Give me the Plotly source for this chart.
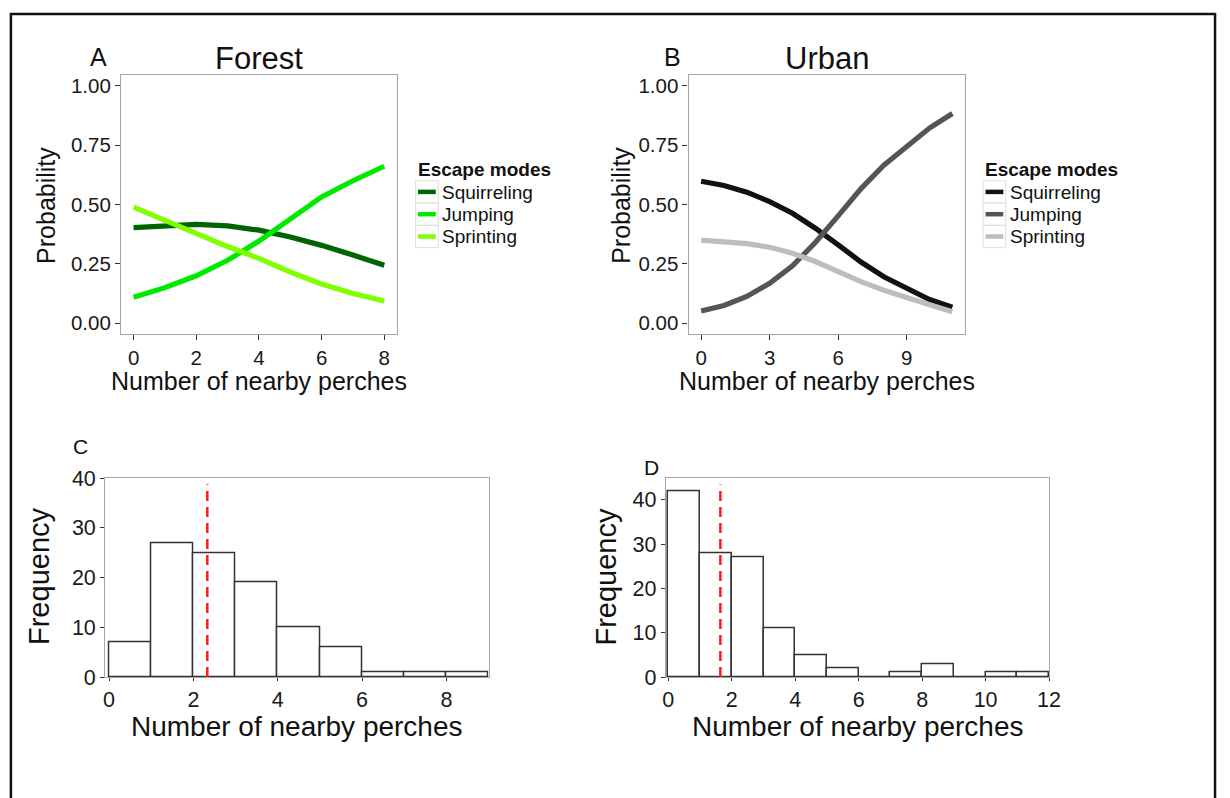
import plotly.graph_objects as go

W, H = 1230, 798

# ---------------- data ----------------
forest_x = [0, 1, 2, 3, 4, 5, 6, 7, 8]
forest_squirreling = [0.403, 0.412, 0.416, 0.410, 0.392, 0.363, 0.328, 0.287, 0.244]
forest_jumping = [0.110, 0.150, 0.200, 0.265, 0.346, 0.438, 0.532, 0.600, 0.661]
forest_sprinting = [0.489, 0.432, 0.376, 0.323, 0.273, 0.216, 0.165, 0.125, 0.094]

urban_x = [0, 1, 2, 3, 4, 5, 6, 7, 8, 9, 10, 11]
urban_squirreling = [0.598, 0.580, 0.552, 0.512, 0.463, 0.400, 0.330, 0.258, 0.196, 0.148, 0.100, 0.068]
urban_jumping = [0.052, 0.075, 0.113, 0.168, 0.242, 0.340, 0.452, 0.567, 0.665, 0.745, 0.822, 0.883]
urban_sprinting = [0.350, 0.345, 0.335, 0.320, 0.295, 0.260, 0.218, 0.175, 0.139, 0.107, 0.078, 0.049]

modes = ["Squirreling", "Jumping", "Sprinting"]
forest_colors = ["#006400", "#00ea00", "#7fff00"]
urban_colors = ["#111111", "#555555", "#bdbdbd"]

forest_bin_left = [0, 1, 2, 3, 4, 5, 6, 7, 8]
forest_counts = [7, 27, 25, 19, 10, 6, 1, 1, 1]
forest_mean = 2.33

urban_bin_left = [0, 1, 2, 3, 4, 5, 6, 7, 8, 9, 10, 11]
urban_counts = [42, 28, 27, 11, 5, 2, 0, 1, 3, 0, 1, 1]
urban_mean = 1.64

# ---------------- helpers ----------------
FONT = "Liberation Sans, Arial, Helvetica, sans-serif"


def px_x(p):
    return p / W


def px_y(p):
    return 1 - p / H


fig = go.Figure()

# Panel A lines
for name, ys, col in zip(modes, [forest_squirreling, forest_jumping, forest_sprinting], forest_colors):
    fig.add_trace(go.Scatter(x=forest_x, y=ys, mode="lines", name=name,
                             line=dict(color=col, width=5.2), showlegend=False,
                             xaxis="x", yaxis="y"))
# Panel B lines
for name, ys, col in zip(modes, [urban_squirreling, urban_jumping, urban_sprinting], urban_colors):
    fig.add_trace(go.Scatter(x=urban_x, y=ys, mode="lines", name=name,
                             line=dict(color=col, width=5.2), showlegend=False,
                             xaxis="x2", yaxis="y2"))

# Panel C histogram
fig.add_trace(go.Bar(x=[b + 0.5 for b in forest_bin_left], y=forest_counts, width=1,
                     marker=dict(color="white", line=dict(color="#333333", width=1.5)),
                     showlegend=False, xaxis="x3", yaxis="y3"))
fig.add_trace(go.Scatter(x=[forest_mean, forest_mean], y=[0, 38.8], mode="lines",
                         line=dict(color="#ff1a1a", width=2.5, dash="10px,6px"),
                         showlegend=False, xaxis="x3", yaxis="y3"))
# Panel D histogram
fig.add_trace(go.Bar(x=[b + 0.5 for b in urban_bin_left], y=urban_counts, width=1,
                     marker=dict(color="white", line=dict(color="#333333", width=1.5)),
                     showlegend=False, xaxis="x4", yaxis="y4"))
fig.add_trace(go.Scatter(x=[urban_mean, urban_mean], y=[0, 43.5], mode="lines",
                         line=dict(color="#ff1a1a", width=2.5, dash="10px,6px"),
                         showlegend=False, xaxis="x4", yaxis="y4"))

axis_common = dict(showgrid=False, zeroline=False, showline=True, mirror=True,
                   linecolor="#a6a6a6", linewidth=1.3, ticks="outside",
                   tickwidth=1.2, tickcolor="#333333", fixedrange=True)
tick_small = dict(family=FONT, size=20.5, color="#1a1a1a")
tick_big = dict(family=FONT, size=21.5, color="#1a1a1a")

yA = [px_y(333), px_y(66)]
yC = [px_y(686.7), px_y(481.7)]

fig.update_layout(
    width=W, height=H, margin=dict(l=0, r=0, t=0, b=0),
    paper_bgcolor="white", plot_bgcolor="white",
    bargap=0,
    xaxis=dict(domain=[px_x(118.6), px_x(398)], range=[-0.4, 8.4], ticklen=5,
               tickvals=[0, 2, 4, 6, 8], tickfont=tick_small, anchor="y", **axis_common),
    yaxis=dict(domain=yA, range=[-0.045, 1.045], tickvals=[0, 0.25, 0.5, 0.75, 1.0], ticklen=5,
               tickformat=".2f", tickfont=tick_small, anchor="x", **axis_common),
    xaxis2=dict(domain=[px_x(693.6), px_x(973.6)], range=[-0.55, 11.55], ticklen=5,
                tickvals=[0, 3, 6, 9], tickfont=tick_small, anchor="y2", **axis_common),
    yaxis2=dict(domain=yA, range=[-0.045, 1.045], tickvals=[0, 0.25, 0.5, 0.75, 1.0], ticklen=5,
                tickformat=".2f", tickfont=tick_small, anchor="x2", **axis_common),
    xaxis3=dict(domain=[px_x(102.6), px_x(491)], range=[-0.09, 9], ticklen=3,
                tickvals=[0, 2, 4, 6, 8], tickfont=tick_big, anchor="y3", **axis_common),
    yaxis3=dict(domain=yC, range=[0, 40], tickvals=[0, 10, 20, 30, 40], ticklen=4,
                tickfont=tick_big, anchor="x3", **axis_common),
    xaxis4=dict(domain=[px_x(670.7), px_x(1058.8)], range=[-0.075, 12], ticklen=3,
                tickvals=[0, 2, 4, 6, 8, 10, 12], tickfont=tick_big, anchor="y4", **axis_common),
    yaxis4=dict(domain=yC, range=[0, 44.9], tickvals=[0, 10, 20, 30, 40], ticklen=4,
                tickfont=tick_big, anchor="x4", **axis_common),
)

annotations = []


def text(x, y, s, size, angle=0, bold=False, xanchor="center"):
    annotations.append(dict(x=px_x(x), y=px_y(y), xref="paper", yref="paper",
                            text=f"<b>{s}</b>" if bold else s, showarrow=False,
                            textangle=angle, xanchor=xanchor, yanchor="middle",
                            font=dict(family=FONT, size=size, color="#111111")))


# panel letters and titles
text(96, 47.5, "A", 25)
text(258, 49, "Forest", 31)
text(677, 47.5, "B", 25)
text(834, 49, "Urban", 31)
text(78, 449, "C", 21)
text(656, 470.5, "D", 21)

# axis titles
text(42.5, 200, "Probability", 25, angle=-90)
text(625, 200, "Probability", 25, angle=-90)
text(258, 381, "Number of nearby perches", 25)
text(834, 381, "Number of nearby perches", 25)
text(36, 583, "Frequency", 29, angle=-90)
text(610, 583, "Frequency", 29, angle=-90)
text(297, 738, "Number of nearby perches", 28)
text(865, 738, "Number of nearby perches", 28)

shapes = []


def legend(x0, colors):
    # title
    text(x0, 163.4, "Escape modes", 19, bold=True, xanchor="left")
    tops = [175, 198, 221]
    for i, (name, col) in enumerate(zip(modes, colors)):
        t = tops[i]
        shapes.append(dict(type="rect", xref="paper", yref="paper",
                           x0=px_x(x0), x1=px_x(x0 + 23), y0=px_y(t + 23), y1=px_y(t),
                           line=dict(color="#dddddd", width=1), fillcolor="white"))
        shapes.append(dict(type="line", xref="paper", yref="paper",
                           x0=px_x(x0 + 2.5), x1=px_x(x0 + 20.5),
                           y0=px_y(t + 11.5), y1=px_y(t + 11.5),
                           line=dict(color=col, width=4.5)))
        text(x0 + 25, t + 12, name, 19, xanchor="left")


legend(417, forest_colors)
legend(992, urban_colors)

# outer frame (left, top, right visible)
shapes.append(dict(type="rect", xref="paper", yref="paper",
                   x0=px_x(7), x1=px_x(1227), y0=-0.05, y1=px_y(3),
                   line=dict(color="#111111", width=2.5), fillcolor="rgba(0,0,0,0)"))

fig.update_layout(annotations=annotations, shapes=shapes)

fig.write_html("out.html")
